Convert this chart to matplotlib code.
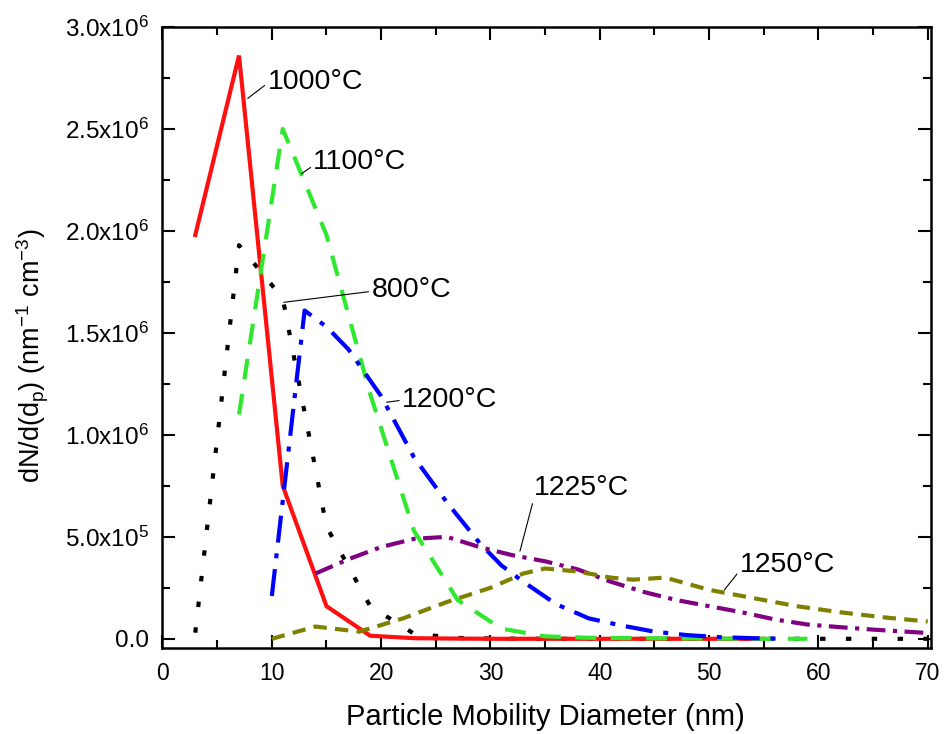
import matplotlib
matplotlib.use('Agg')
import matplotlib.pyplot as plt
from matplotlib.ticker import MultipleLocator, FixedLocator, FixedFormatter

plt.rcParams['font.family'] = ['Liberation Sans', 'DejaVu Sans']
plt.rcParams['mathtext.fontset'] = 'custom'
plt.rcParams['mathtext.rm'] = 'Liberation Sans'
plt.rcParams['mathtext.it'] = 'Liberation Sans:italic'
plt.rcParams['mathtext.bf'] = 'Liberation Sans:bold'

# ---- data: diameter (nm) and dN/d(dp) in units of 1e6 nm^-1 cm^-3 ----
d_800 = [3, 7, 11, 15, 19, 23, 27, 31, 35, 39, 43, 47, 51, 55, 59, 63, 67, 71]
n_800 = [0.03, 1.93, 1.67, 0.55, 0.16, 0.025, 0.004, 0.001, 0, 0, 0, 0, 0, 0, 0, 0, 0, 0]

d_1000 = [3, 7, 11, 15, 19, 23, 27, 31, 35, 39, 43, 47, 51, 55]
n_1000 = [1.98, 2.86, 0.75, 0.16, 0.015, 0.003, 0.001, 0, 0, 0, 0, 0, 0, 0]

d_1100 = [7, 11, 15, 19, 23, 27, 31, 35, 39, 43, 47, 51, 55, 59]
n_1100 = [1.10, 2.50, 1.98, 1.20, 0.53, 0.19, 0.05, 0.012, 0.005, 0.003, 0.002, 0.001, 0, 0]

d_1200 = [10, 13, 15, 17, 20, 23, 26, 29, 31, 33, 36, 39, 42, 45, 48, 51, 54, 57]
n_1200 = [0.21, 1.61, 1.53, 1.42, 1.19, 0.89, 0.67, 0.47, 0.36, 0.28, 0.17, 0.10, 0.065, 0.035, 0.018, 0.008, 0.003, 0.0]

d_1225 = [14, 17, 20, 23, 26, 29, 32, 35, 38, 41, 44, 47, 50, 53, 56, 59, 62, 65, 68, 71]
n_1225 = [0.32, 0.39, 0.45, 0.49, 0.50, 0.45, 0.41, 0.38, 0.34, 0.28, 0.23, 0.19, 0.16, 0.13, 0.095, 0.07, 0.057, 0.045, 0.035, 0.025]

d_1250 = [10, 14, 18, 22, 26, 30, 33, 35, 38, 41, 43, 46, 50, 54, 58, 62, 66, 70]
n_1250 = [0.0, 0.06, 0.035, 0.10, 0.18, 0.25, 0.32, 0.345, 0.33, 0.30, 0.29, 0.30, 0.24, 0.20, 0.16, 0.13, 0.105, 0.085]

scale = 1e6

y_ticks = [0, 0.5, 1.0, 1.5, 2.0, 2.5, 3.0]
y_tick_labels = ['0.0', r'5.0x10$^{5}$', r'1.0x10$^{6}$', r'1.5x10$^{6}$',
                 r'2.0x10$^{6}$', r'2.5x10$^{6}$', r'3.0x10$^{6}$']
x_ticks = [0, 10, 20, 30, 40, 50, 60, 70]

fig = plt.figure(figsize=(9.48, 7.34), dpi=100)
ax = fig.add_axes([0.1714, 0.1172, 0.8107, 0.8460])

lw = 3.0
ax.plot(d_800, [v * scale for v in n_800], color='black', lw=lw,
        linestyle=(0, (1.3, 4.9)), dash_capstyle='butt')
ax.plot(d_1000, [v * scale for v in n_1000], color='#FF1010', lw=lw,
        linestyle='-', solid_joinstyle='miter')
ax.plot(d_1100, [v * scale for v in n_1100], color='#30E830', lw=lw,
        linestyle=(0, (5.0, 3.5)))
ax.plot(d_1200, [v * scale for v in n_1200], color='#0000FF', lw=lw,
        linestyle=(0, (6.5, 2.6, 1.2, 2.6)))
ax.plot(d_1225, [v * scale for v in n_1225], color='#800080', lw=lw,
        linestyle=(0, (4.5, 1.8, 1.0, 1.8)))
ax.plot(d_1250, [v * scale for v in n_1250], color='#808000', lw=lw,
        linestyle=(0, (3.2, 2.0)))

ax.set_xlim(0, 70.3)
ax.set_ylim(-0.045 * scale, 3.0 * scale)

ax.xaxis.set_major_locator(FixedLocator(x_ticks))
ax.xaxis.set_minor_locator(MultipleLocator(5))
ax.yaxis.set_major_locator(FixedLocator([v * scale for v in y_ticks]))
ax.yaxis.set_major_formatter(FixedFormatter(y_tick_labels))
ax.yaxis.set_minor_locator(MultipleLocator(0.25 * scale))

ax.tick_params(which='both', direction='in', top=True, right=True, width=1.5)
ax.tick_params(which='major', length=9.5, pad=10)
ax.tick_params(axis='x', which='major', labelsize=16.5)
ax.tick_params(axis='y', which='major', labelsize=17.5)
ax.tick_params(which='minor', length=6)
for s in ax.spines.values():
    s.set_linewidth(1.8)

ax.set_xlabel('Particle Mobility Diameter (nm)', fontsize=21)
ax.xaxis.set_label_coords(0.498, -0.088)
ax.set_ylabel(r'dN/d(d$_{\rm p}$) (nm$^{-1}$ cm$^{-3}$)', fontsize=19.5)
ax.yaxis.set_label_coords(-0.145, 0.47)

labels = [
    ('1000°C', (7.8, 2.65), (9.6, 2.73), (0, 0.45)),
    ('1100°C', (12.7, 2.28), (13.8, 2.34), (0, 0.35)),
    ('800°C', (11.1, 1.65), (19.1, 1.71), (0, 0.45)),
    ('1200°C', (20.5, 1.16), (21.9, 1.17), (0, 0.5)),
    ('1225°C', (32.7, 0.43), (34.0, 0.74), (0, 0.15)),
    ('1250°C', (51.4, 0.24), (52.8, 0.36), (0, 0.3)),
]
for txt, p, t, rp in labels:
    ax.annotate(txt, xy=(p[0], p[1] * scale), xytext=(t[0], t[1] * scale),
                ha='left', va='center', fontsize=20.5,
                arrowprops=dict(arrowstyle='-', lw=0.8, color='black',
                                shrinkA=0, shrinkB=0, relpos=rp))

fig.savefig('out.png', dpi=100)
